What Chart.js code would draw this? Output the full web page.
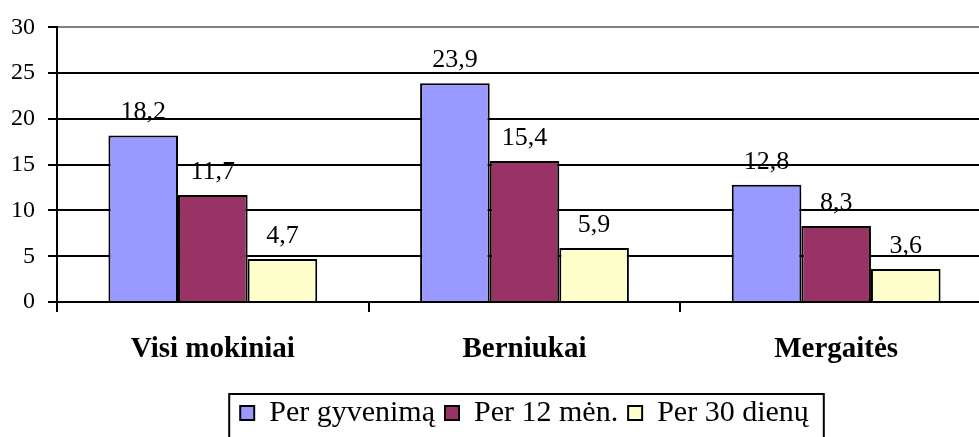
<!DOCTYPE html>
<html>
<head>
<meta charset="utf-8">
<script src="https://cdn.jsdelivr.net/npm/chart.js@4"></script>
<style>
  body { margin: 0; overflow: hidden; background: #fff; }
  #wrap { width: 1048px; height: 438px; }
</style>
</head>
<body>
<div id="wrap"><canvas id="chart" width="1048" height="438"></canvas></div>
<script>
const categories = ['Visi mokiniai', 'Berniukai', 'Mergaitės'];
const seriesNames = ['Per gyvenimą', 'Per 12 mėn.', 'Per 30 dienų'];
const perLifetime = [18.2, 23.9, 12.8];
const per12Months = [11.7, 15.4, 8.3];
const per30Days = [4.7, 5.9, 3.6];
const yTicks = [0, 5, 10, 15, 20, 25, 30];

const colors = ['#9999ff', '#993366', '#ffffcc'];
const serif = '"Liberation Serif", "Times New Roman", serif';

Chart.defaults.font.family = serif;
Chart.defaults.color = '#000';

// numbers above the bars, with a decimal comma
const valueLabels = {
    id: 'valueLabels',
    afterDatasetsDraw(chart) {
        const ctx = chart.ctx;
        ctx.save();
        ctx.font = '26px ' + serif;
        ctx.fillStyle = '#000';
        ctx.textAlign = 'center';
        ctx.textBaseline = 'alphabetic';
        chart.data.datasets.forEach((ds, i) => {
            chart.getDatasetMeta(i).data.forEach((bar, j) => {
                ctx.fillText(ds.data[j].toFixed(1).replace('.', ','), bar.x, bar.y - 16);
            });
        });
        ctx.restore();
    }
};

// center legend under the plot and frame it
const legendFrame = {
    id: 'legendFrame',
    afterLayout(chart) {
        const lg = chart.legend;
        const shift = (chart.chartArea.left + chart.chartArea.right) / 2 - (lg.left + lg.right) / 2;
        lg.left += shift;
        lg.right += shift;
    },
    afterDraw(chart) {
        const lg = chart.legend;
        const pad = lg.options.labels.padding;
        const lw = lg.lineWidths[0];
        const x0 = (lg.left + pad + lg.right - lw) / 2;
        const x1 = x0 + lw - pad;
        const ctx = chart.ctx;
        ctx.save();
        ctx.strokeStyle = '#000';
        ctx.lineWidth = 2;
        ctx.strokeRect(x0 - 11, lg.top + 6, x1 - x0 + 26, lg.height + 20);
        ctx.restore();
    }
};

const datasets = [perLifetime, per12Months, per30Days].map((values, i) => ({
    label: seriesNames[i],
    data: values,
    backgroundColor: colors[i],
    borderColor: '#000',
    borderWidth: 2,
    barPercentage: 1,
    categoryPercentage: 0.67
}));

new Chart(document.getElementById('chart'), {
    type: 'bar',
    data: { labels: categories, datasets: datasets },
    options: {
        responsive: false,
        animation: false,
        layout: { padding: { top: 24, right: 56, left: 0, bottom: 0 } },
        plugins: {
            legend: {
                position: 'bottom',
                labels: {
                    boxWidth: 14,
                    boxHeight: 14,
                    padding: 10,
                    font: { size: 30 }
                }
            },
            tooltip: { enabled: false }
        },
        scales: {
            x: {
                grid: {
                    drawOnChartArea: false,
                    color: '#000',
                    lineWidth: 2,
                    tickLength: 10
                },
                border: { color: '#000', width: 2 },
                ticks: {
                    padding: 20,
                    font: { size: 29, weight: 'bold' }
                },
                afterFit: s => { s.height = 86; }
            },
            y: {
                min: 0,
                max: 30,
                afterBuildTicks: s => { s.ticks = yTicks.map(v => ({ value: v })); },
                grid: {
                    color: c => c.tick && c.tick.value === 30 ? '#808080' : '#000',
                    tickColor: '#000',
                    lineWidth: 2,
                    tickLength: 9
                },
                border: { color: '#000', width: 2 },
                ticks: {
                    padding: 13,
                    font: { size: 24 }
                },
                afterFit: s => { s.width = 57; }
            }
        }
    },
    plugins: [valueLabels, legendFrame]
});
</script>
</body>
</html>
